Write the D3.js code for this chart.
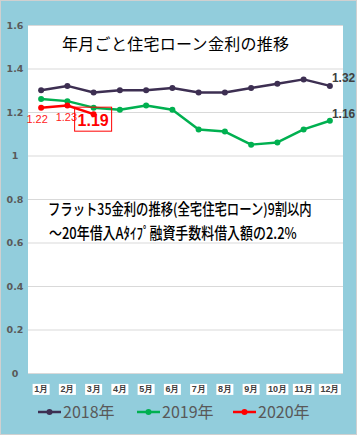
<!DOCTYPE html>
<html><head><meta charset="utf-8">
<script src="https://cdn.jsdelivr.net/npm/d3@7"></script>
<style>
html,body{margin:0;padding:0;background:#fff;}
svg{display:block;font-family:"Noto Sans CJK JP","Noto Sans",sans-serif;}
</style></head>
<body>
<svg id="c" width="357" height="435"></svg>
<script>
const months = ["1月","2月","3月","4月","5月","6月","7月","8月","9月","10月","11月","12月"];
const yTicks = [0,0.2,0.4,0.6,0.8,1,1.2,1.4,1.6];
const s2018 = [1.30,1.32,1.29,1.30,1.30,1.31,1.29,1.29,1.31,1.33,1.35,1.32];
const s2019 = [1.26,1.25,1.22,1.21,1.23,1.21,1.12,1.11,1.05,1.06,1.12,1.16];
const s2020 = [1.22,1.23,1.19];
const seriesNames = ["2018年","2019年","2020年"];
const seriesColors = ["#3d2f52","#00b050","#ff0000"];
const titleText = "年月ごと住宅ローン金利の推移";
const noteLines = ["フラット35金利の推移(全宅住宅ローン)9割以内","～20年借入Aﾀｲﾌﾟ融資手数料借入額の2.2%"];

(function(){
const svg = d3.select("#c");
const W = 357, H = 435;
const pL = 28, pR = 343, pT = 25, pB = 373;

svg.append("rect").attr("x",0.5).attr("y",0.5).attr("width",W-1).attr("height",H-1)
  .attr("fill","#92cddc").attr("stroke","#d0d0d0");
svg.append("rect").attr("x",pL).attr("y",pT).attr("width",pR-pL).attr("height",pB-pT)
  .attr("fill","#fff");

const x = d3.scaleBand().domain(months).range([pL,pR]);
const y = d3.scaleLinear().domain([0,1.6]).range([pB,pT]);
const cx = i => x(months[i]) + x.bandwidth()/2;

// gridlines
const grid = svg.append("g").attr("transform",`translate(${pL},0)`)
  .call(d3.axisLeft(y).tickValues(yTicks).tickSize(-(pR-pL)).tickFormat(""));
grid.select(".domain").remove();
grid.selectAll("line").attr("stroke","#d9d9d9").attr("stroke-width",1);

// y labels
const ya = svg.append("g").attr("transform","translate(15,0)")
  .call(d3.axisLeft(y).tickValues(yTicks).tickSize(0).tickPadding(0).tickFormat(d=>String(+d.toFixed(1))));
ya.select(".domain").remove();
ya.selectAll("text").attr("text-anchor","middle").attr("x",0)
  .attr("font-weight","bold").attr("fill","#595959")
  .attr("font-family","'DejaVu Sans','Noto Sans',sans-serif").style("font-size","9.5px");

// x labels
const xa = svg.append("g").attr("transform",`translate(0,${pB})`)
  .call(d3.axisBottom(x).tickSize(0).tickPadding(13));
xa.select(".domain").remove();
xa.selectAll("text").attr("font-size",9).attr("font-weight","bold").attr("fill","#404040");
xa.selectAll(".tick").each(function(){
  const t = d3.select(this).select("text");
  const b = t.node().getBBox();
  d3.select(this).insert("rect","text").attr("x",b.x-1.5).attr("y",b.y-0.5)
    .attr("width",b.width+3).attr("height",b.height+1).attr("fill","#fff");
});

// title
svg.append("text").attr("x",62).attr("y",50).attr("font-size",16).attr("fill","#000")
  .attr("letter-spacing",0.3).text(titleText);

// note (horizontally condensed)
const noteX = [48,49], noteY = [215,239], noteLen = [264,248];
noteLines.forEach((t,i)=>{
  const g = svg.append("g");
  const tx = g.append("text").attr("x",0).attr("y",0).attr("font-size",15.5)
    .attr("fill","#000").attr("font-weight",500).text(t);
  const w = tx.node().getComputedTextLength();
  g.attr("transform",`translate(${noteX[i]},${noteY[i]}) scale(${noteLen[i]/w},1)`);
});

// lines
const all = [s2018,s2019,s2020];
const line = d3.line().x((d,i)=>cx(i)).y(d=>y(d));
all.forEach((s,k)=>{
  svg.append("path").datum(s).attr("d",line).attr("fill","none")
    .attr("stroke",seriesColors[k]).attr("stroke-width",2.5).attr("stroke-linejoin","round");
  svg.append("g").selectAll("circle").data(s).join("circle")
    .attr("cx",(d,i)=>cx(i)).attr("cy",d=>y(d)).attr("r",3).attr("fill",seriesColors[k]);
});

// data labels
const fmt = d3.format(".2f");
const lf = "'Liberation Sans',sans-serif";
svg.append("text").attr("x",cx(0)-4).attr("y",y(s2020[0])+15).attr("text-anchor","middle")
  .attr("font-size",11).attr("fill","#ff2020").attr("font-family",lf).text(fmt(s2020[0]));
svg.append("text").attr("x",cx(1)-1).attr("y",y(s2020[1])+16).attr("text-anchor","middle")
  .attr("font-size",11).attr("fill","#ff2020").attr("font-family",lf).text(fmt(s2020[1]));
svg.append("rect").attr("x",cx(2)-19).attr("y",y(s2020[2])-7).attr("width",37).attr("height",24)
  .attr("fill","none").attr("stroke","#ff0000").attr("stroke-width",1);
svg.append("text").attr("x",cx(2)-0.5).attr("y",y(s2020[2])+12).attr("text-anchor","middle")
  .attr("font-size",16).attr("font-weight","bold").attr("fill","#ff0000")
  .attr("font-family",lf).text(fmt(s2020[2]));
svg.append("text").attr("x",cx(11)+2).attr("y",y(s2018[11])-4).attr("font-size",12)
  .attr("font-weight","bold").attr("fill","#404040").attr("font-family",lf).text(fmt(s2018[11]));
svg.append("text").attr("x",cx(11)+2).attr("y",y(s2019[11])-3).attr("font-size",12)
  .attr("font-weight","bold").attr("fill","#404040").attr("font-family",lf).text(fmt(s2019[11]));

// legend
const legX = [38,137,233];
seriesNames.forEach((n,k)=>{
  const g = svg.append("g");
  g.append("line").attr("x1",legX[k]).attr("x2",legX[k]+23).attr("y1",412).attr("y2",412)
    .attr("stroke",seriesColors[k]).attr("stroke-width",2.5);
  g.append("circle").attr("cx",legX[k]+11.5).attr("cy",412).attr("r",3).attr("fill",seriesColors[k]);
  g.append("text").attr("x",legX[k]+25).attr("y",418).attr("font-size",16).attr("fill","#595959").text(n);
});
})();
</script>
</body></html>
